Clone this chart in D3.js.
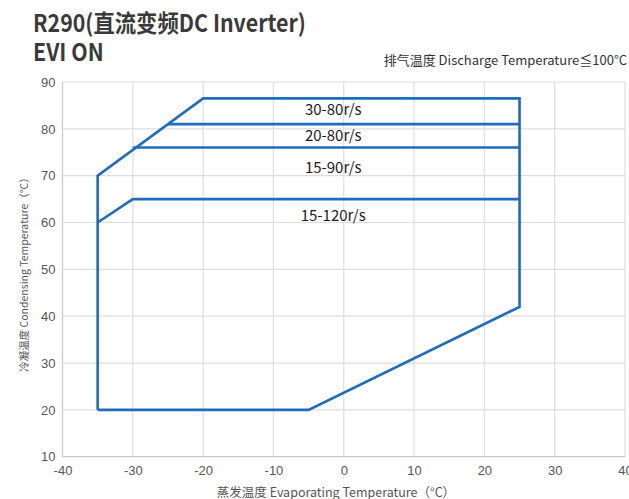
<!DOCTYPE html>
<html><head><meta charset="utf-8">
<script src="https://cdn.jsdelivr.net/npm/d3@7/dist/d3.min.js"></script>
<style>body{margin:0;background:#fff}svg{display:block}</style>
</head><body><svg id="c" width="629" height="499"></svg>
<script>
const xTicks = [-40,-30,-20,-10,0,10,20,30,40];
const yTicks = [10,20,30,40,50,60,70,80,90];
// outer operating envelope [evaporating, condensing]
const envelope = [[-35,20],[-5,20],[25,42],[25,86.5],[-20,86.5],[-35,70],[-35,20]];
// inner boundaries between speed zones
const bandLines = [
  [[-25,81],[25,81]],
  [[-30,76],[25,76]],
  [[-35,60],[-30,65],[25,65]]
];
const zoneLabels = ["30-80r/s","20-80r/s","15-90r/s","15-120r/s"];
const zoneLabelY = [83.8,78.3,71.4,61.2];
const zoneLabelX = -1.5;

const svg = d3.select("#c");
const x = d3.scaleLinear().domain([-40,40]).range([62.5,625]);
const y = d3.scaleLinear().domain([10,90]).range([456.7,82]);

const g = svg.append("g");
g.selectAll(".vg").data(xTicks).join("line")
  .attr("x1",d=>x(d)).attr("x2",d=>x(d)).attr("y1",y(10)).attr("y2",y(90))
  .attr("stroke",d=>d===-40?"#c8c8c8":"#dedede").attr("stroke-width",1.2);
g.selectAll(".hg").data(yTicks).join("line")
  .attr("y1",d=>y(d)).attr("y2",d=>y(d)).attr("x1",x(-40)).attr("x2",x(40))
  .attr("stroke",d=>d===10?"#c8c8c8":"#dedede").attr("stroke-width",1.2);

const xa = d3.axisBottom(x).tickValues(xTicks).tickFormat(d=>String(d)).tickSize(0).tickPadding(9);
const ya = d3.axisLeft(y).tickValues(yTicks).tickFormat(d=>String(d)).tickSize(0).tickPadding(7);
const gx = svg.append("g").attr("transform",`translate(0,${y(10)})`).call(xa);
const gy = svg.append("g").attr("transform",`translate(${x(-40)},0)`).call(ya);
[gx,gy].forEach(a=>{
  a.select(".domain").remove();
  a.selectAll("text").attr("fill","#555").style("font-family","Liberation Sans, Arial, sans-serif").style("font-size","13px");
});

const line = d3.line().x(d=>x(d[0])).y(d=>y(d[1]));
const blue = "#1f6cbd";
svg.append("path").attr("d",line(envelope)).attr("fill","none").attr("stroke",blue).attr("stroke-width",2.6).attr("stroke-linejoin","miter");
svg.selectAll(".band").data(bandLines).join("path").attr("d",d=>line(d))
  .attr("fill","none").attr("stroke",blue).attr("stroke-width",2.6);

svg.selectAll(".zl").data(zoneLabels).join("text")
  .attr("x",x(zoneLabelX)).attr("y",(d,i)=>y(zoneLabelY[i]))
  .attr("text-anchor","middle").attr("dominant-baseline","middle")
  .attr("fill","#1a1a1a").style("font-family","Noto Sans CJK SC, Noto Sans, sans-serif").style("font-size","15px")
  .text(d=>d);

const tf = "Noto Sans CJK SC, Noto Sans, sans-serif";
const tg = svg.append("g").attr("transform","translate(33,0) scale(0.89,1)");
tg.append("text").attr("x",0).attr("y",32).attr("fill","#3a3a3a")
  .style("font-family",tf).style("font-weight","bold").style("font-size","24px")
  .text("R290(直流变频DC Inverter)");
tg.append("text").attr("x",0).attr("y",61).attr("fill","#3a3a3a")
  .style("font-family",tf).style("font-weight","bold").style("font-size","24px")
  .text("EVI ON");
svg.append("text").attr("x",627).attr("y",65).attr("text-anchor","end").attr("fill","#333")
  .style("font-family",tf).style("font-size","13px")
  .text("排气温度 Discharge Temperature≦100°C");
svg.append("text").attr("transform",`translate(28,272) rotate(-90)`).attr("text-anchor","middle")
  .attr("fill","#555").style("font-family",tf).style("font-size","10.5px")
  .text("冷凝温度 Condensing Temperature（°C）");
svg.append("text").attr("x",336).attr("y",497).attr("text-anchor","middle")
  .attr("fill","#555").style("font-family",tf).style("font-size","12.5px")
  .text("蒸发温度 Evaporating Temperature（°C）");
</script></body></html>
